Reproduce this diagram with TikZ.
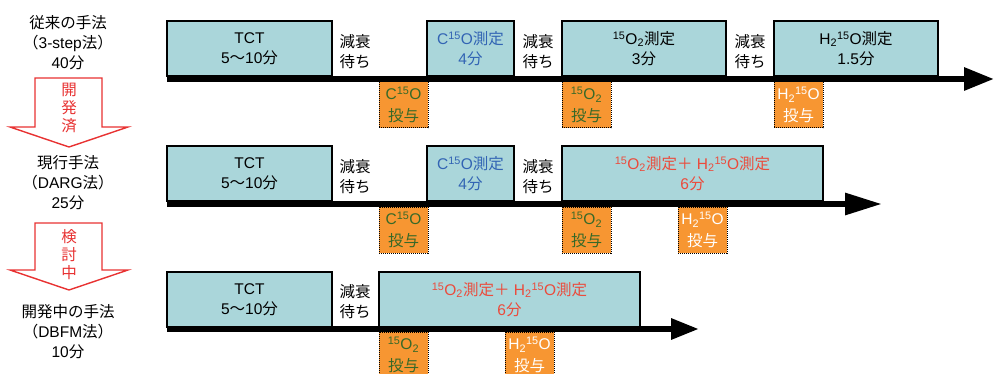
\documentclass[tikz,border=0pt]{standalone}
\usepackage{fontspec}
\setmainfont{Liberation Sans}
\newfontfamily\jpf{Noto Sans CJK JP}
\newcommand{\jp}[1]{{\jpf #1}}
\usetikzlibrary{arrows.meta}
\definecolor{tealbox}{RGB}{170,214,218}
\definecolor{orng}{RGB}{247,150,50}
\definecolor{cblue}{RGB}{50,100,180}
\definecolor{cgreen}{RGB}{55,105,40}
\definecolor{cred}{RGB}{235,75,60}
\definecolor{arrred}{RGB}{232,50,50}
\newcommand{\isup}[1]{\textsuperscript{#1}}
\newcommand{\isub}[1]{\textsubscript{#1}}
\tikzset{
  tbox/.style={draw=black, line width=1.4pt, fill=tealbox, anchor=north west, inner sep=0pt, outer sep=0pt, minimum height=55pt, align=center, font=\fontsize{15.5}{20}\selectfont},
  obox/.style={draw=black, densely dotted, line width=1pt, fill=orng, anchor=north west, inner sep=0pt, outer sep=0pt, minimum width=49pt, minimum height=46pt, align=center, font=\fontsize{15.5}{22}\selectfont},
  lbl/.style={align=center, inner sep=0pt, font=\fontsize{15.5}{20}\selectfont},
  vtxt/.style={align=center, inner sep=0pt, text=arrred, font=\fontsize{15.5}{18}\selectfont},
  timebar/.style={line width=6pt, draw=black},
  bigarrow/.style={draw=arrred, line width=1.4pt, fill=white, line join=miter},
}
\begin{document}
\begin{tikzpicture}[x=1pt,y=-1pt]
\useasboundingbox (0,0) rectangle (995,374);

% ---------- left column ----------
\node[lbl] (m1) at (68,43) {\jp{従来の手法}\\\jp{（}3-step\jp{法）}\\40\jp{分}};
\node[lbl] (m2) at (68,183) {\jp{現行手法}\\\jp{（}DARG\jp{法）}\\25\jp{分}};
\node[lbl] (m3) at (68,332) {\jp{開発中の手法}\\\jp{（}DBFM\jp{法）}\\10\jp{分}};
\draw[bigarrow] (35,78) -- (102,78) -- (102,127) -- (128,127) -- (69,147) -- (10,127) -- (35,127) -- cycle;
\node[vtxt] (a1) at (69,108) {\jp{開}\\\jp{発}\\\jp{済}};
\draw[bigarrow] (35,223) -- (102,223) -- (102,270) -- (128,270) -- (69,290) -- (10,270) -- (35,270) -- cycle;
\node[vtxt] (a2) at (69,255) {\jp{検}\\\jp{討}\\\jp{中}};

% ---------- row 1 ----------
\coordinate (s1) at (167,79);
\coordinate (e1) at (994,79);
\node[tbox, minimum width=165pt] (tct1) at (167,21) {TCT\\5\jp{〜}10\jp{分}};
\node[tbox, minimum width=87pt, text=cblue] (c1) at (427,21) {C\isup{15}O\jp{測定}\\4\jp{分}};
\node[tbox, minimum width=164pt] (o1) at (562,21) {\isup{15}O\isub{2}\jp{測定}\\3\jp{分}};
\node[tbox, minimum width=164pt] (h1) at (774,21) {H\isub{2}\isup{15}O\jp{測定}\\1.5\jp{分}};
\node[lbl] (d11) at (355,52) {\jp{減衰}\\\jp{待ち}};
\node[lbl] (d12) at (538,52) {\jp{減衰}\\\jp{待ち}};
\node[lbl] (d13) at (750,52) {\jp{減衰}\\\jp{待ち}};
\draw[timebar, -{Triangle[length=30pt,width=22pt]}] (s1) -- (e1);
\node[obox, text=cgreen] (ic1) at (379,82) {C\isup{15}O\\\jp{投与}};
\node[obox, text=cgreen] (io1) at (562,82) {\isup{15}O\isub{2}\\\jp{投与}};
\node[obox, text=white] (ih1) at (774,82) {H\isub{2}\isup{15}O\\\jp{投与}};

% ---------- row 2 ----------
\coordinate (s2) at (167,204);
\coordinate (e2) at (882,204);
\node[tbox, minimum width=165pt] (tct2) at (167,146) {TCT\\5\jp{〜}10\jp{分}};
\node[tbox, minimum width=87pt, text=cblue] (c2) at (427,146) {C\isup{15}O\jp{測定}\\4\jp{分}};
\node[tbox, minimum width=261pt, text=cred] (b2) at (562,146) {\isup{15}O\isub{2}\jp{測定＋} H\isub{2}\isup{15}O\jp{測定}\\6\jp{分}};
\node[lbl] (d21) at (355,177) {\jp{減衰}\\\jp{待ち}};
\node[lbl] (d22) at (538,177) {\jp{減衰}\\\jp{待ち}};
\draw[timebar, -{Triangle[length=37pt,width=21pt]}] (s2) -- (e2);
\node[obox, text=cgreen] (ic2) at (379,207) {C\isup{15}O\\\jp{投与}};
\node[obox, text=cgreen] (io2) at (562,207) {\isup{15}O\isub{2}\\\jp{投与}};
\node[obox, text=white] (ih2) at (678,207) {H\isub{2}\isup{15}O\\\jp{投与}};

% ---------- row 3 ----------
\coordinate (s3) at (167,329);
\coordinate (e3) at (699,329);
\node[tbox, minimum width=165pt] (tct3) at (167,272) {TCT\\5\jp{〜}10\jp{分}};
\node[tbox, minimum width=261pt, text=cred] (b3) at (379,272) {\isup{15}O\isub{2}\jp{測定＋} H\isub{2}\isup{15}O\jp{測定}\\6\jp{分}};
\node[lbl] (d31) at (355,302) {\jp{減衰}\\\jp{待ち}};
\draw[timebar, -{Triangle[length=28pt,width=20pt]}] (s3) -- (e3);
\node[obox, text=cgreen] (io3) at (379,332) {\isup{15}O\isub{2}\\\jp{投与}};
\node[obox, text=white] (ih3) at (505,332) {H\isub{2}\isup{15}O\\\jp{投与}};
\end{tikzpicture}
\end{document}
